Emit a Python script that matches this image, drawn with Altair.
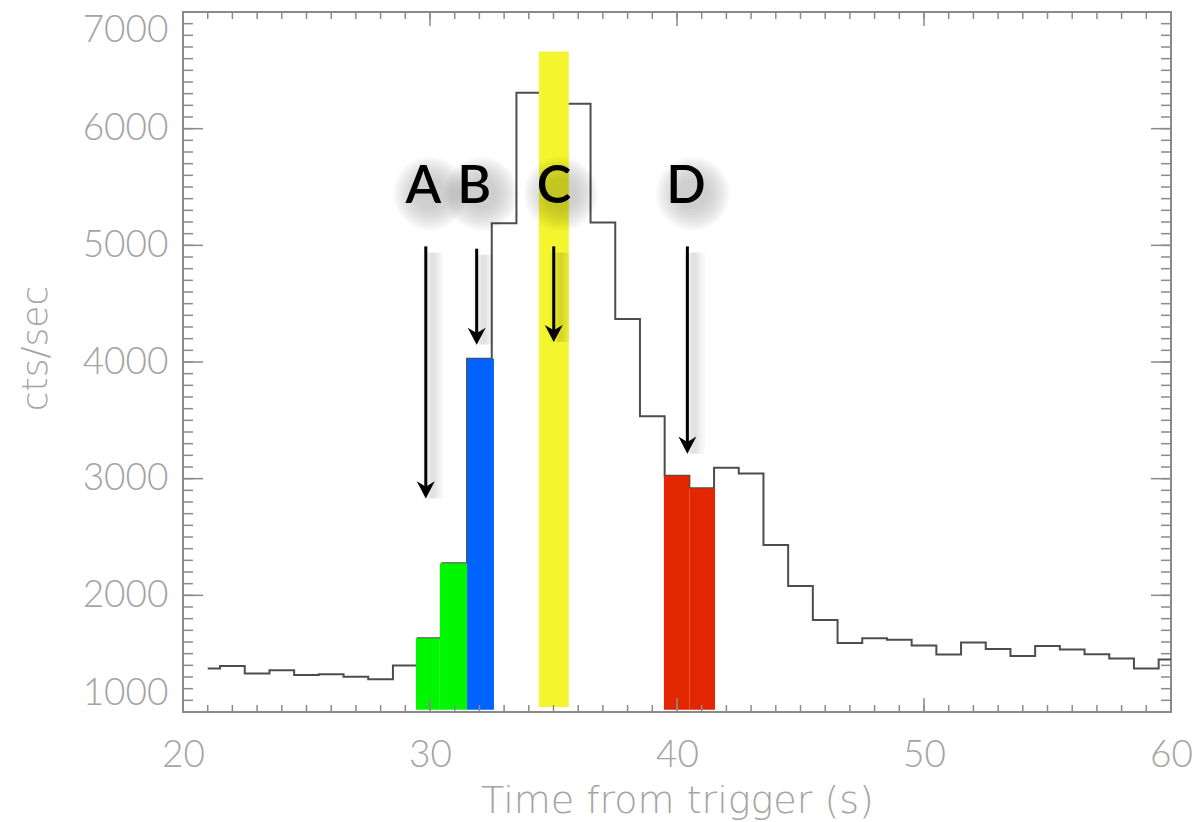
import altair as alt
import pandas as pd

# ---- data ----
times = list(range(21, 61))
rates = [1372, 1394, 1329, 1357, 1317, 1323, 1303, 1280, 1398, 1632,
         2274, 4028, 5190, 6308, 6550, 6213, 5196, 4368, 3536, 3026,
         2917, 3094, 3045, 2431, 2080, 1788, 1591, 1632, 1620, 1569,
         1492, 1595, 1540, 1480, 1566, 1535, 1494, 1458, 1372, 1449]

seg_start = [29.43, 30.40, 31.50, 34.41, 39.47, 40.50]
seg_end = [30.40, 31.50, 32.59, 35.62, 40.50, 41.54]
seg_top = [1632, 2274, 4028, 6661, 3026, 2917]
seg_bottom = [1020, 1020, 1020, 1043, 1020, 1020]
seg_color = ["#00f700", "#00f700", "#0063ff", "#f3f52e", "#e22700", "#e22700"]

letters = ["A", "B", "C", "D"]
letter_t = [29.73, 31.79, 35.02, 40.36]
letter_y = [5359, 5359, 5359, 5359]
letter_mid = [5520, 5520, 5520, 5520]

arrow_t = [29.83, 31.89, 35.01, 40.42]
arrow_top = [4991, 4971, 4991, 4991]
arrow_tip = [2831, 4148, 4171, 3214]

x_major = [20, 30, 40, 50, 60]
x_minor = list(range(20, 61))
y_major = [1000, 2000, 3000, 4000, 5000, 6000, 7000]
y_minor = list(range(1000, 7001, 100))

W, H = 988, 700
AX = "#8a8a8a"
LBL = "#a4a4a4"
LFONT = "Lato"
TFONT = "DejaVu Sans"

xs = alt.Scale(domain=[20, 60], nice=False, zero=False)
ys = alt.Scale(domain=[1000, 7000], nice=False, zero=False)

hist = pd.DataFrame({"t": times, "rate": rates})
segs = pd.DataFrame({"s": seg_start, "e": seg_end, "top": seg_top,
                     "bot": seg_bottom, "c": seg_color})
labs = pd.DataFrame({"l": letters, "t": letter_t, "y": letter_y, "m": letter_mid})
arr = pd.DataFrame({"t": arrow_t, "top": arrow_top, "tip": arrow_tip})
xmin_df = pd.DataFrame({"v": x_minor})
xmaj_df = pd.DataFrame({"v": x_major})
ymin_df = pd.DataFrame({"v": y_minor})
ymaj_df = pd.DataFrame({"v": y_major})

x_axis = alt.Axis(values=x_major, format="d", ticks=False, tickSize=0, domain=False,
                  grid=False, labelFont=LFONT, labelFontWeight=300, labelFontSize=37,
                  labelColor=LBL, labelPadding=54, labelBaseline="alphabetic",
                  labelFlush=False, labelOverlap=False,
                  title="Time from trigger (s)", titleFont=TFONT, titleFontWeight=200,
                  titleFontSize=38, titleColor=LBL, titleY=100,
                  titleBaseline="alphabetic")
y_axis = alt.Axis(values=y_major, format="d", ticks=False, tickSize=0, domain=False,
                  grid=False, labelFont=LFONT, labelFontWeight=300, labelFontSize=37,
                  labelColor=LBL, labelPadding=15, labelFlush=True, labelOverlap=False,
                  title="cts/sec", titleFont=TFONT, titleFontWeight=200,
                  titleFontSize=36, titleColor=LBL, titleAngle=270, titleX=-137,
                  titleY=336, titleAlign="center", titleBaseline="alphabetic")


def X(field):
    return alt.X(field, scale=xs, axis=x_axis)


def Y(field):
    return alt.Y(field, scale=ys, axis=y_axis)


line = alt.Chart(hist).mark_line(interpolate="step", color="#4d4d4d", strokeWidth=2).encode(
    x=X("t:Q"), y=Y("rate:Q"))

bars = alt.Chart(segs).mark_rect().encode(
    x=X("s:Q"), x2="e:Q", y=Y("bot:Q"), y2="top:Q",
    color=alt.Color("c:N", scale=None))

# soft shadows (approximation of a blur)
shadow_layers = []
for k in range(12):
    sz = 5600 - k * 420
    shadow_layers.append(
        alt.Chart(labs).mark_circle(color="#000000", opacity=0.014, size=sz,
                                    xOffset=7, yOffset=9).encode(
            x=X("t:Q"), y=Y("m:Q")))
for w in [22, 18, 14, 10, 7, 4]:
    shadow_layers.append(
        alt.Chart(arr).mark_rule(color="#000000", opacity=0.018, strokeWidth=w,
                                 xOffset=7, yOffset=6).encode(
            x=X("t:Q"), y=Y("top:Q"), y2="tip:Q"))

shaft = alt.Chart(arr).transform_calculate(notch="datum.tip + 90").mark_rule(
    color="black", strokeWidth=3).encode(
    x=X("t:Q"), y=Y("top:Q"), y2="notch:Q")

head = alt.Chart(arr).mark_point(
    shape="M0,0 L-1,-1.9 L0,-1.3 L1,-1.9 Z", filled=True, size=324,
    color="black", opacity=1, strokeWidth=0).encode(
    x=X("t:Q"), y=Y("tip:Q"))

text = alt.Chart(labs).mark_text(font="Lato", fontWeight=600, fontSize=52,
                                 baseline="alphabetic", align="center",
                                 color="black").encode(
    x=X("t:Q"), y=Y("y:Q"), text="l:N")


def ticks(df, chan, start, end):
    enc = {chan: X("v:Q") if chan == "x" else Y("v:Q")}
    other = "y" if chan == "x" else "x"
    enc[other] = alt.value(start)
    enc[other + "2"] = alt.value(end)
    return alt.Chart(df).mark_rule(color=AX, strokeWidth=1.5).encode(**enc)


tick_layers = [
    ticks(xmin_df, "x", H, H - 7), ticks(xmaj_df, "x", H, H - 14),
    ticks(xmin_df, "x", 0, 7), ticks(xmaj_df, "x", 0, 14),
    ticks(ymin_df, "y", 0, 10), ticks(ymaj_df, "y", 0, 20),
    ticks(ymin_df, "y", W, W - 10), ticks(ymaj_df, "y", W, W - 20),
]

chart = alt.layer(line, bars, *tick_layers, *shadow_layers, shaft, head, text).properties(
    width=W, height=H,
    padding={"left": 183, "top": 12, "right": 24, "bottom": 110},
    autosize=alt.AutoSizeParams(type="none"),
    background="white",
).configure_view(stroke=AX, strokeWidth=2)

chart.save("out.html", embed_options={"renderer": "svg", "actions": False})
